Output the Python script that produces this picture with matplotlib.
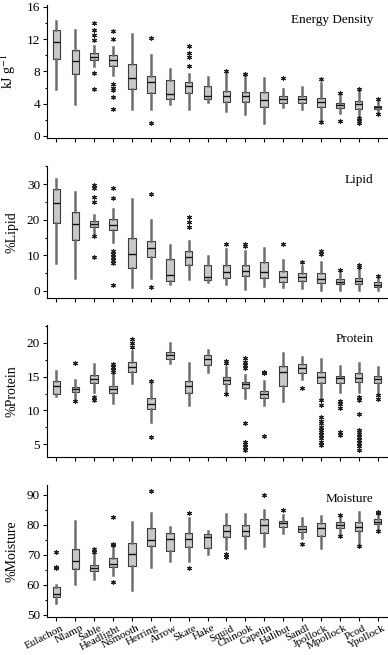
"""Box plots of proximate composition for 18 forage species (four stacked panels)."""

import matplotlib
matplotlib.use('Agg')
import matplotlib.pyplot as plt  # pylint: disable=wrong-import-position
import matplotlib.transforms as mtransforms  # pylint: disable=wrong-import-position
from matplotlib.ticker import MultipleLocator  # pylint: disable=wrong-import-position

SPECIES = ["Eulachon", "Nlamp", "Sable", "Headlight", "Nsmooth", "Herring",
           "Arrow", "Skate", "Hake", "Squid", "Chinook", "Capelin", "Halibut",
           "Sandl", "Jpollock", "Mpollock", "Pcod", "Ypollock"]

# Energy density (kJ/g)
ENERGY_LO = [5.8, 3.95, 8.7, 7.55, 3.4, 3.3, 3.95, 3.4, 4.25, 3.15, 2.7, 1.65, 3.55, 3.3, 1.7, 2.8, 2.2, 3.0]
ENERGY_Q1 = [9.55, 7.7, 9.4, 8.7, 5.8, 5.3, 4.6, 5.35, 4.65, 4.2, 4.25, 3.65, 4.15, 4.05, 3.65, 3.45, 3.35, 3.3]
ENERGY_MED = [11.65, 9.35, 9.85, 9.4, 7.15, 6.75, 5.2, 6.2, 5.0, 4.9, 4.9, 4.45, 4.6, 4.55, 4.2, 3.85, 3.95, 3.55]
ENERGY_Q3 = [13.2, 10.7, 10.25, 10.05, 8.9, 7.45, 6.95, 6.65, 6.2, 5.6, 5.5, 5.5, 5.0, 4.95, 4.75, 4.15, 4.35, 3.75]
ENERGY_HI = [14.3, 13.1, 11.2, 11.0, 12.7, 10.1, 8.3, 7.75, 7.35, 7.7, 7.45, 7.15, 5.8, 6.1, 6.55, 4.95, 5.7, 4.25]
ENERGY_OUT = [[], [], [14.0, 13.2, 12.5, 11.9, 7.85, 5.8],
              [13.0, 12.0, 6.5, 6.0, 5.7, 4.8, 3.35], [], [12.1, 1.55], [],
              [11.2, 10.25, 9.85, 8.7], [], [8.0], [7.7, 7.7], [], [7.25], [],
              [7.05, 1.7], [5.3, 1.8], [5.8, 2.2, 1.9, 1.65], [4.55, 2.7]]

# Lipid (%)
LIPID_LO = [7.8, 3.75, 15.5, 13.7, 1.2, 3.75, 1.9, 3.3, 2.6, 1.9, 0.55, 1.4, 1.0, 0.75, 0.3, 0.3, 0.3, 0.3]
LIPID_Q1 = [19.0, 14.2, 18.1, 17.2, 6.4, 9.4, 2.8, 7.3, 3.2, 3.55, 4.3, 3.75, 2.6, 2.9, 2.15, 2.0, 1.9, 1.1]
LIPID_MED = [24.6, 18.75, 18.9, 18.6, 10.3, 12.2, 4.5, 9.65, 3.9, 5.25, 5.6, 5.45, 3.85, 3.85, 3.4, 2.6, 2.8, 1.8]
LIPID_Q3 = [28.6, 22.3, 19.7, 20.2, 15.0, 13.9, 9.0, 11.25, 7.3, 7.3, 7.3, 8.25, 5.7, 5.0, 5.0, 3.3, 3.55, 2.45]
LIPID_HI = [31.5, 27.9, 21.4, 23.1, 25.9, 20.0, 12.9, 14.1, 9.85, 11.8, 11.25, 12.2, 8.7, 7.0, 8.25, 5.0, 5.9, 3.75]
LIPID_OUT = [[], [], [29.8, 28.9, 26.5, 25.1, 15.5, 9.65],
             [28.9, 26.1, 11.1, 10.3, 9.5, 8.6, 7.8, 1.7], [], [27.2, 1.2], [],
             [20.7, 19.5, 18.1], [], [13.1], [13.1, 12.75], [], [13.2], [8.0],
             [11.1, 10.3], [5.9], [7.3, 6.65], [4.3]]

# Protein (%)
PROT_LO = [12.1, 11.9, 12.7, 11.05, 14.1, 8.35, 17.05, 10.8, 15.7, 12.5, 11.9, 10.8, 11.45, 14.65, 11.9, 12.75, 12.75, 12.75]
PROT_Q1 = [12.4, 12.75, 14.1, 12.6, 15.7, 10.2, 17.55, 12.6, 16.7, 13.9, 13.25, 11.8, 13.6, 15.5, 14.1, 14.1, 14.25, 14.1]
PROT_MED = [13.6, 13.1, 14.65, 13.1, 16.45, 10.95, 18.2, 13.6, 17.55, 14.5, 13.9, 12.4, 15.7, 16.2, 15.0, 14.75, 14.85, 14.65]
PROT_Q3 = [14.35, 13.4, 15.2, 13.6, 17.1, 11.8, 18.6, 14.35, 18.1, 15.0, 14.25, 12.85, 16.6, 16.85, 15.7, 15.15, 15.5, 15.15]
PROT_HI = [15.8, 14.5, 16.85, 15.2, 18.8, 13.9, 20.0, 17.05, 18.9, 16.45, 15.2, 14.35, 18.5, 17.9, 17.55, 16.55, 17.05, 16.45]
PROT_OUT = [[], [16.95, 11.4], [12.0, 11.5], [16.85, 16.35, 15.9, 15.6],
            [20.5, 20.0, 19.3], [14.35, 6.1], [], [], [], [17.35, 17.05, 12.4],
            [17.7, 17.2, 16.7, 16.2, 8.1, 5.4, 5.0, 4.65, 4.25],
            [15.7, 15.5, 6.2], [], [13.25],
            [11.5, 10.8, 9.0, 8.5, 8.1, 7.6, 7.2, 6.9, 6.4, 5.9, 5.4, 4.9],
            [11.45, 10.9, 10.3, 6.85, 6.45],
            [12.0, 11.5, 9.5, 7.2, 6.85, 6.5, 6.1, 5.7, 5.2, 4.75, 4.15],
            [12.3, 11.65]]

# Moisture (%)
MOIST_LO = [54.1, 60.2, 61.9, 63.3, 58.3, 66.1, 68.1, 68.1, 70.3, 71.9, 72.2, 73.0, 77.4, 75.6, 72.2, 77.0, 73.0, 78.1]
MOIST_Q1 = [56.1, 65.2, 64.7, 65.8, 66.3, 73.0, 71.3, 72.6, 72.2, 76.1, 76.4, 77.2, 79.4, 77.6, 76.4, 78.9, 78.0, 80.2]
MOIST_MED = [57.0, 67.8, 65.6, 67.0, 70.3, 74.8, 75.3, 75.3, 75.9, 78.1, 78.1, 80.0, 80.6, 78.6, 78.9, 80.0, 79.4, 81.1]
MOIST_Q3 = [59.4, 71.9, 66.7, 68.9, 74.1, 78.9, 77.2, 77.2, 77.0, 79.8, 79.8, 81.9, 81.4, 79.7, 80.6, 80.8, 81.1, 81.9]
MOIST_HI = [60.0, 81.3, 70.0, 73.0, 80.9, 83.9, 79.4, 82.2, 77.8, 83.7, 83.7, 85.0, 83.3, 82.2, 82.8, 82.8, 84.2, 83.0]
MOIST_OUT = [[71.1, 65.9, 65.6], [], [71.9, 71.1], [82.6, 73.7, 73.3, 61.1], [],
             [91.3], [], [83.9, 65.6], [], [70.3, 69.4], [], [90.0], [84.8],
             [73.7], [], [83.3, 76.4], [73.0], [84.4, 84.1, 77.8]]

plt.rcParams['font.family'] = ['Liberation Serif', 'DejaVu Serif']
plt.rcParams['mathtext.fontset'] = 'stix'

PANELS = [
    ("Energy Density", "kJ g$^{-1}$", (ENERGY_LO, ENERGY_Q1, ENERGY_MED, ENERGY_Q3, ENERGY_HI, ENERGY_OUT),
     (-0.25, 16.25), 4, 2, [0.1211, 0.7893, 0.8763, 0.2031]),
    ("Lipid", "%Lipid", (LIPID_LO, LIPID_Q1, LIPID_MED, LIPID_Q3, LIPID_HI, LIPID_OUT),
     (-1.9, 35.2), 10, 5, [0.1211, 0.5455, 0.8763, 0.2015]),
    ("Protein", "%Protein", (PROT_LO, PROT_Q1, PROT_MED, PROT_Q3, PROT_HI, PROT_OUT),
     (3.2, 22.6), 5, 2.5, [0.1211, 0.3028, 0.8763, 0.2011]),
    ("Moisture", "%Moisture", (MOIST_LO, MOIST_Q1, MOIST_MED, MOIST_Q3, MOIST_HI, MOIST_OUT),
     (49.4, 93.3), 10, 5, [0.1211, 0.0585, 0.8763, 0.2011]),
]


def make_stats(lo, q1, med, q3, hi, out):
    return [{'whislo': a, 'q1': b, 'med': c, 'q3': d, 'whishi': e, 'fliers': f}
            for a, b, c, d, e, f in zip(lo, q1, med, q3, hi, out)]


fig = plt.figure(figsize=(3.88, 6.55), dpi=100)
# nudge the rotated species names a little to the right of their ticks
label_shift = mtransforms.ScaledTranslation(0.05, 0, fig.dpi_scale_trans)

for i, (title, ylabel, data, ylim, major, minor, rect) in enumerate(PANELS):
    ax = fig.add_axes(rect)
    ax.bxp(make_stats(*data), positions=range(len(SPECIES)), widths=0.4,
           patch_artist=True, showcaps=False,
           boxprops={'facecolor': '#c8c8c8', 'edgecolor': '#3a3a3a', 'linewidth': 0.8},
           whiskerprops={'color': '#6e6e6e', 'linewidth': 1.8},
           medianprops={'color': '#111111', 'linewidth': 1.0},
           flierprops={'marker': (6, 2, 0), 'markersize': 3.5, 'markeredgecolor': '#222222',
                       'markeredgewidth': 0.8, 'linestyle': 'none'})
    ax.set_xlim(-0.5, len(SPECIES) - 0.5)
    ax.set_ylim(*ylim)
    ax.yaxis.set_major_locator(MultipleLocator(major))
    ax.yaxis.set_minor_locator(MultipleLocator(minor))
    ax.spines['top'].set_visible(False)
    ax.spines['right'].set_visible(False)
    ax.tick_params(axis='both', which='major', length=3, width=0.8, labelsize=9.5, pad=2)
    ax.tick_params(axis='y', which='minor', length=1.5, width=0.8)
    ax.set_xticks(range(len(SPECIES)))
    if i == len(PANELS) - 1:
        ax.set_xticklabels(SPECIES, rotation=27, ha='right', va='top',
                           rotation_mode='anchor', fontsize=8)
        for lab in ax.get_xticklabels():
            lab.set_transform(lab.get_transform() + label_shift)
    else:
        ax.set_xticklabels([])
    ax.set_ylabel(ylabel, fontsize=10)
    ax.yaxis.set_label_coords(-0.085, 0.5)
    ax.text(0.96, 0.89, title, transform=ax.transAxes, ha='right', va='center', fontsize=9.5)

plt.savefig("out.png", dpi=100)
plt.close()
